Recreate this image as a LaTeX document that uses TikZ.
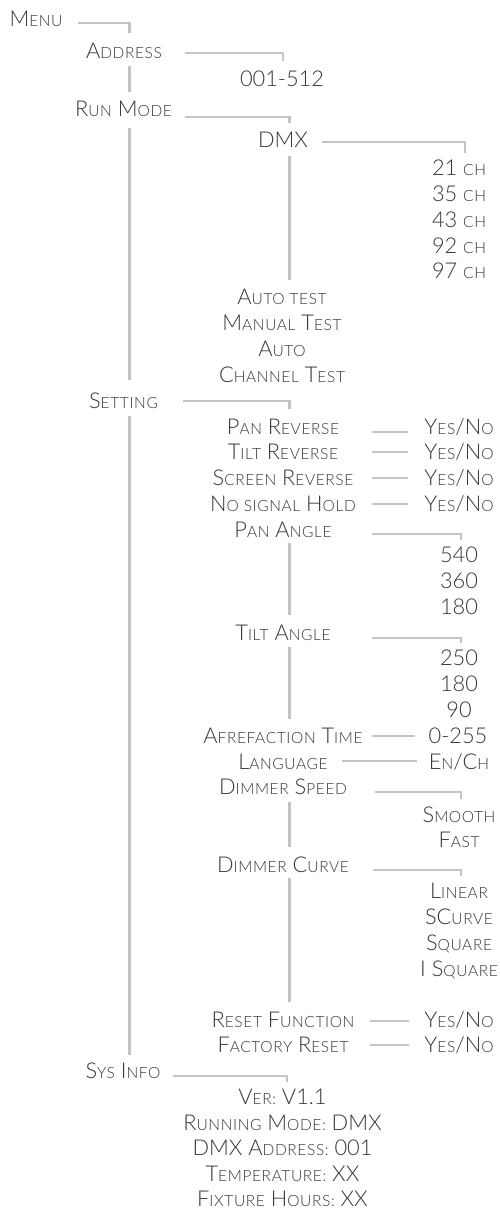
\documentclass[tikz,border=0pt]{standalone}
\usepackage{fontspec}
\setmainfont{Lato Light}
\usetikzlibrary{calc}
\definecolor{txtc}{HTML}{363636}
\definecolor{linec}{HTML}{C4C4C4}
\newcommand\lsc[1]{{\fontsize{15.5}{15.5}\selectfont\addfontfeature{LetterSpace=4}#1}}
\begin{document}
\begin{tikzpicture}[x=1pt,y=-1pt,
  txt/.style={inner sep=0pt, text height=15.6pt, text depth=0pt, font=\fontsize{21.8}{25}\selectfont, text=txtc},
  conn/.style={draw=linec, line width=2.6pt}]
\useasboundingbox (0,0) rectangle (500,1208);
% columns
\coordinate (x78) at (78,0);
\coordinate (x185) at (185,0);
\coordinate (x183) at (183,0);
\coordinate (x173) at (173,0);
\coordinate (x322) at (322,0);
\coordinate (x342) at (342,0);
\coordinate (x370) at (370,0);
\coordinate (x372) at (372,0);
\coordinate (x373) at (373,0);
\coordinate (x375) at (375,0);
\coordinate (x408) at (408,0);
\coordinate (x409) at (409,0);
\coordinate (x415) at (415,0);
\coordinate (x417) at (417,0);
\coordinate (tkA) at (129.5,0);
\coordinate (tkB) at (283,0);
\coordinate (tkC) at (289.5,0);
\coordinate (tkD) at (465,0);
\coordinate (tkE) at (461,0);
\coordinate (tkF) at (287,0);
% level 0/1
\node[txt] (menu) at (36,19) {M\lsc{ENU}};
\node[txt] (address) at (124,50.5) {A\lsc{DDRESS}};
\node[txt] (addrv) at (282,79) {001-512};
\node[txt] (runmode) at (123.5,108.5) {R\lsc{UN} M\lsc{ODE}};
\node[txt] (dmx) at (283,139.5) {DMX};
\node[txt] (ch21) at (459,167.5) {21 \lsc{CH}};
\node[txt] (ch35) at (459,193.5) {35 \lsc{CH}};
\node[txt] (ch43) at (459,219.5) {43 \lsc{CH}};
\node[txt] (ch92) at (459,245.5) {92 \lsc{CH}};
\node[txt] (ch97) at (459,271) {97 \lsc{CH}};
\node[txt] (autotest) at (282,297) {A\lsc{UTO TEST}};
\node[txt] (manual) at (282,322.5) {M\lsc{ANUAL} T\lsc{EST}};
\node[txt] (auto) at (282,348.5) {A\lsc{UTO}};
\node[txt] (chantest) at (282,374.5) {C\lsc{HANNEL} T\lsc{EST}};
\node[txt] (setting) at (123.5,400.5) {S\lsc{ETTING}};
% setting items
\node[txt] (panrev) at (283,426.5) {P\lsc{AN} R\lsc{EVERSE}};
\node[txt] (tiltrev) at (283,452) {T\lsc{ILT} R\lsc{EVERSE}};
\node[txt] (screenrev) at (283,478) {S\lsc{CREEN} R\lsc{EVERSE}};
\node[txt] (nosig) at (283,503.5) {N\lsc{O SIGNAL} H\lsc{OLD}};
\node[txt] (yn1) at (459,426.5) {Y\lsc{ES}/N\lsc{O}};
\node[txt] (yn2) at (459,452) {Y\lsc{ES}/N\lsc{O}};
\node[txt] (yn3) at (459,478) {Y\lsc{ES}/N\lsc{O}};
\node[txt] (yn4) at (459,503.5) {Y\lsc{ES}/N\lsc{O}};
\node[txt] (panangle) at (283,529.5) {P\lsc{AN} A\lsc{NGLE}};
\node[txt] (v540) at (459,555) {540};
\node[txt] (v360) at (459,581) {360};
\node[txt] (v180a) at (459,606.5) {180};
\node[txt] (tiltangle) at (283,632.5) {T\lsc{ILT} A\lsc{NGLE}};
\node[txt] (v250) at (459,658) {250};
\node[txt] (v180b) at (459,684) {180};
\node[txt] (v90) at (459,709.5) {90};
\node[txt] (afref) at (283,735.5) {A\lsc{FREFACTION} T\lsc{IME}};
\node[txt] (t255) at (458,735.5) {0-255};
\node[txt] (language) at (283,761.5) {L\lsc{ANGUAGE}};
\node[txt] (ench) at (459,761.5) {E\lsc{N}/C\lsc{H}};
\node[txt] (dimspeed) at (283,787) {D\lsc{IMMER} S\lsc{PEED}};
\node[txt] (smooth) at (459,814.5) {S\lsc{MOOTH}};
\node[txt] (fast) at (459,840) {F\lsc{AST}};
\node[txt] (dimcurve) at (283,864.5) {D\lsc{IMMER} C\lsc{URVE}};
\node[txt] (linear) at (459,890.5) {L\lsc{INEAR}};
\node[txt] (scurve) at (459,916.5) {SC\lsc{URVE}};
\node[txt] (square) at (459,942.5) {S\lsc{QUARE}};
\node[txt] (isquare) at (459,968.5) {I S\lsc{QUARE}};
\node[txt] (resetfn) at (283,1019.5) {R\lsc{ESET} F\lsc{UNCTION}};
\node[txt] (factory) at (283,1045) {F\lsc{ACTORY} R\lsc{ESET}};
\node[txt] (yn5) at (459,1019.5) {Y\lsc{ES}/N\lsc{O}};
\node[txt] (yn6) at (459,1045) {Y\lsc{ES}/N\lsc{O}};
% sys info
\node[txt] (sysinfo) at (123,1071) {S\lsc{YS} I\lsc{NFO}};
\node[txt] (ver) at (282.5,1097) {V\lsc{ER:} V1.1};
\node[txt] (runmd) at (282.5,1123) {R\lsc{UNNING} M\lsc{ODE:} DMX};
\node[txt] (dmxaddr) at (282.5,1148) {DMX A\lsc{DDRESS:} 001};
\node[txt] (temp) at (282.5,1174) {T\lsc{EMPERATURE:} XX};
\node[txt] (hours) at (282.5,1199) {F\lsc{IXTURE} H\lsc{OURS:} XX};
% connectors
\draw[conn] ($(menu.east -| x78)+(0,4)$) -| ($(address.north -| tkA)+(0,-10)$);
\draw[conn] ($(address.east -| x185)+(0,2.5)$) -| ($(addrv.north -| tkB)+(0,-10.5)$);
\draw[conn] ($(address.south -| tkA)+(0,7)$) -- ($(runmode.north -| tkA)+(0,-9)$);
\draw[conn] ($(runmode.east -| x185)+(0,8.5)$) -| ($(dmx.north -| tkC)+(0,-9)$);
\draw[conn] ($(runmode.south -| tkA)+(0,11)$) -- ($(setting.north -| tkA)+(0,-13)$);
\draw[conn] ($(dmx.east -| x322)+(0,2.5)$) -| ($(ch21.north -| tkD)+(0,-7)$);
\draw[conn] ($(dmx.south -| tkC)+(0,8)$) -- ($(autotest.north -| tkC)+(0,-9.5)$);
\draw[conn] ($(setting.east -| x183)+(0,0.5)$) -| ($(panrev.north -| tkC)+(0,-10)$);
\draw[conn] ($(setting.south -| tkA)+(0,7)$) -- ($(sysinfo.north -| tkA)+(0,-8.5)$);
\draw[conn] ($(panrev.east -| x372)+(0,5.5)$) -- ($(yn1.west -| x408)+(0,5.5)$);
\draw[conn] ($(tiltrev.east -| x372)+(0,0)$) -- ($(yn2.west -| x408)+(0,0)$);
\draw[conn] ($(screenrev.east -| x372)+(0,0)$) -- ($(yn3.west -| x408)+(0,0)$);
\draw[conn] ($(nosig.east -| x372)+(0,0.5)$) -- ($(yn4.west -| x408)+(0,0.5)$);
\draw[conn] ($(panangle.east -| x372)+(0,4.5)$) -| ($(v540.north -| tkE)+(0,-7)$);
\draw[conn] ($(panangle.south -| tkC)+(0,5)$) -- ($(tiltangle.north -| tkC)+(0,-10)$);
\draw[conn] ($(tiltangle.east -| x372)+(0,5.5)$) -| ($(v250.north -| tkE)+(0,-7)$);
\draw[conn] ($(tiltangle.south -| tkC)+(0,6)$) -- ($(afref.north -| tkC)+(0,-9)$);
\draw[conn] ($(afref.east -| x372)+(0,0.5)$) -- ($(t255.west -| x415)+(0,0.5)$);
\draw[conn] ($(language.east -| x342)+(0,-0.5)$) -- ($(ench.west -| x417)+(0,-0.5)$);
\draw[conn] ($(dimspeed.east -| x375)+(0,5)$) -| ($(smooth.north -| tkE)+(0,-8)$);
\draw[conn] ($(dimspeed.south -| tkC)+(0,7)$) -- ($(dimcurve.north -| tkC)+(0,-10)$);
\draw[conn] ($(dimcurve.east -| x373)+(0,5.5)$) -| ($(linear.north -| tkE)+(0,-7)$);
\draw[conn] ($(dimcurve.south -| tkC)+(0,5)$) -- ($(resetfn.north -| tkC)+(0,-10)$);
\draw[conn] ($(resetfn.east -| x370)+(0,1.5)$) -- ($(yn5.west -| x409)+(0,1.5)$);
\draw[conn] ($(factory.east -| x370)+(0,0)$) -- ($(yn6.west -| x409)+(0,0)$);
\draw[conn] ($(sysinfo.east -| x173)+(0,5)$) -| ($(ver.north -| tkF)+(0,-7.5)$);
\end{tikzpicture}
\end{document}
